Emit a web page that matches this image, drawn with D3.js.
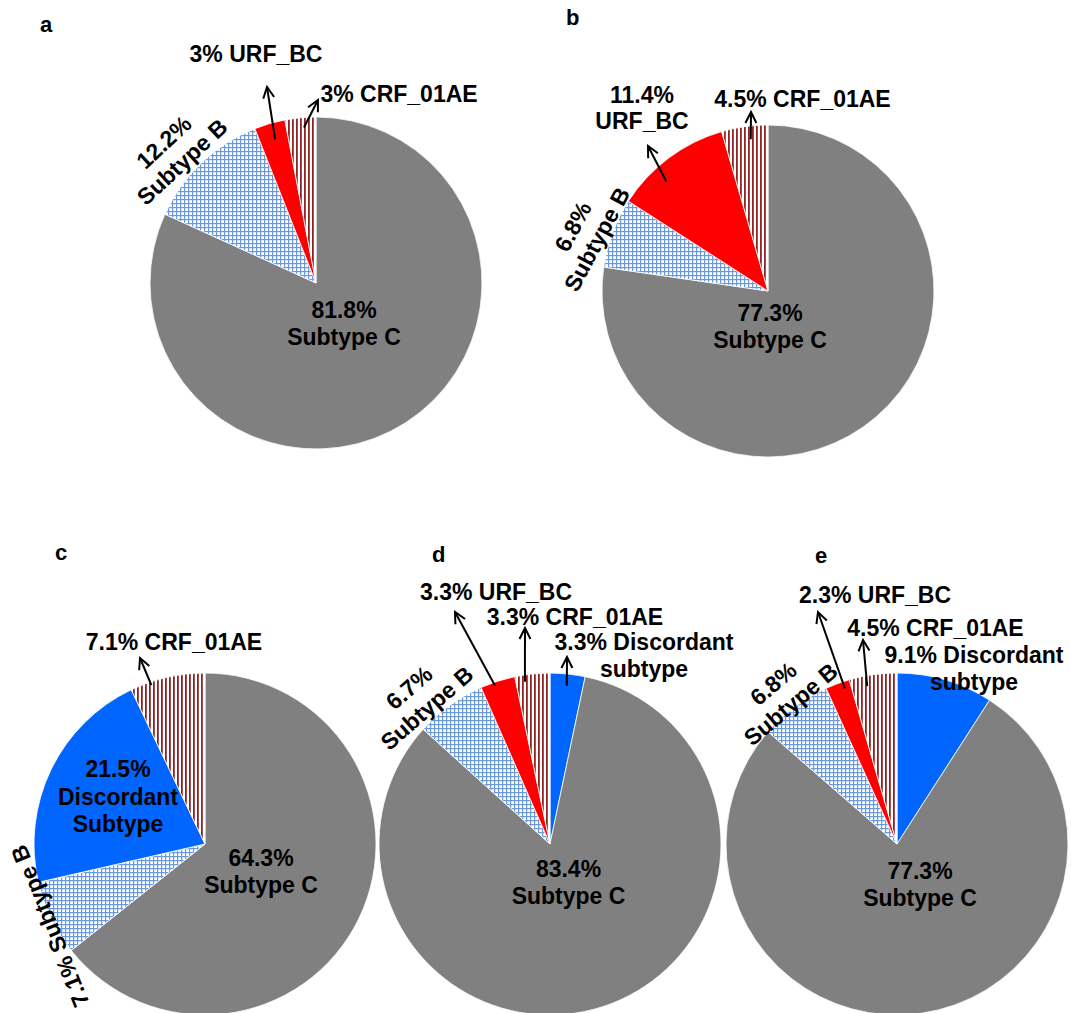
<!DOCTYPE html>
<html>
<head>
<meta charset="utf-8">
<script src="https://cdn.jsdelivr.net/npm/d3@7"></script>
<style>
  body { margin: 0; background: #fff; }
  text { font-family: "Liberation Sans", Arial, sans-serif; font-weight: bold; fill: #000; }
</style>
</head>
<body>
<div id="d3-container"></div>
<script>
/**
 * DATA (slices listed clockwise from 12 o'clock)
 * */
const catsA = ["Subtype C", "Subtype B", "URF_BC", "CRF_01AE"];
const valsA = [81.8, 12.2, 3, 3];

const catsB = ["Subtype C", "Subtype B", "URF_BC", "CRF_01AE"];
const valsB = [77.3, 6.8, 11.4, 4.5];

const catsC = ["Subtype C", "Subtype B", "Discordant", "CRF_01AE"];
const valsC = [64.3, 7.1, 21.5, 7.1];

const catsD = ["Discordant", "Subtype C", "Subtype B", "URF_BC", "CRF_01AE"];
const valsD = [3.3, 83.4, 6.7, 3.3, 3.3];

const catsE = ["Discordant", "Subtype C", "Subtype B", "URF_BC", "CRF_01AE"];
const valsE = [9.1, 77.3, 6.8, 2.3, 4.5];

const panelNames = ["a", "b", "c", "d", "e"];

/**
 * CONSTANTS AND GLOBALS
 * */
const width = 1071,
  height = 1013,
  lineH = 27;

let svg;

// fill per category (the patterned ones point at <pattern> ids)
const fillFor = {
  "Subtype C": "#808080",
  "Subtype B": "url(#grid)",
  "URF_BC": "#ff0000",
  "CRF_01AE": "url(#stripes)",
  "Discordant": "#0066ff"
};

// layout of each panel: pie position, panel letter, labels and arrows
const panels = [
  {
    cats: catsA, vals: valsA, cx: 316, cy: 283, r: 166, letter: [40, 32],
    labels: [
      { lines: ["3% URF_BC"], x: 256, y: 54 },
      { lines: ["3% CRF_01AE"], x: 399, y: 94 },
      { lines: ["12.2%", "Subtype B"], x: 173, y: 152, rot: -43 },
      { lines: ["81.8%", "Subtype C"], x: 344, y: 323.5 }
    ],
    arrows: [
      { cat: "URF_BC", t: 0.53, k: 0.9, to: [267, 87] },
      { cat: "CRF_01AE", t: 0.59, k: 0.94, to: [318, 100] }
    ]
  },
  {
    cats: catsB, vals: valsB, cx: 768, cy: 291, r: 166, letter: [566, 25],
    labels: [
      { lines: ["11.4%", "URF_BC"], x: 642, y: 107.5, lh: 26 },
      { lines: ["4.5% CRF_01AE"], x: 802.5, y: 99 },
      { lines: ["6.8%", "Subtype B"], x: 585, y: 233, rot: -62 },
      { lines: ["77.3%", "Subtype C"], x: 770, y: 326 }
    ],
    arrows: [
      { cat: "URF_BC", t: 0.35, k: 0.9, to: [648, 146] },
      { cat: "CRF_01AE", t: 0.6, k: 0.92, to: [751, 112] }
    ]
  },
  {
    cats: catsC, vals: valsC, cx: 205, cy: 844, r: 171, letter: [55, 560],
    labels: [
      { lines: ["7.1% CRF_01AE"], x: 174, y: 642 },
      { lines: ["21.5%", "Discordant", "Subtype"], x: 118, y: 796.5, lh: 27.5 },
      { lines: ["64.3%", "Subtype C"], x: 261, y: 871 },
      { lines: ["7.1% Subtype B"], x: 50, y: 926, rot: -112 }
    ],
    arrows: [
      { cat: "CRF_01AE", t: 0.27, k: 0.98, to: [140, 658] }
    ]
  },
  {
    cats: catsD, vals: valsD, cx: 550, cy: 844, r: 171, letter: [432, 562],
    labels: [
      { lines: ["3.3% URF_BC"], x: 496, y: 592 },
      { lines: ["3.3% CRF_01AE"], x: 575, y: 617 },
      { lines: ["3.3% Discordant", "subtype"], x: 644, y: 655.5 },
      { lines: ["6.7%", "Subtype B"], x: 418, y: 698, rot: -41 },
      { lines: ["83.4%", "Subtype C"], x: 568.5, y: 882.5 }
    ],
    arrows: [
      { cat: "URF_BC", t: 0.39, k: 0.98, to: [455, 612] },
      { cat: "CRF_01AE", t: 0.26, k: 0.96, to: [525, 628] },
      { cat: "Discordant", t: 0.51, k: 0.93, to: [567, 657] }
    ]
  },
  {
    cats: catsE, vals: valsE, cx: 897, cy: 844, r: 171, letter: [815, 563],
    labels: [
      { lines: ["2.3% URF_BC"], x: 875, y: 595 },
      { lines: ["4.5% CRF_01AE"], x: 935.5, y: 628 },
      { lines: ["9.1% Discordant", "subtype"], x: 974, y: 668.5 },
      { lines: ["6.8%", "Subtype B"], x: 782, y: 694, rot: -40 },
      { lines: ["77.3%", "Subtype C"], x: 920, y: 884 }
    ],
    arrows: [
      { cat: "URF_BC", t: 0.72, k: 0.96, to: [818, 612] },
      { cat: "CRF_01AE", t: 0.34, k: 0.94, to: [863, 640] }
    ]
  }
];

/**
 * INIT
 * */
function init() {
  svg = d3.select("#d3-container")
    .append("svg")
    .attr("width", width)
    .attr("height", height);

  const defs = svg.append("defs");

  // blue check pattern for subtype B
  const grid = defs.append("pattern")
    .attr("id", "grid")
    .attr("patternUnits", "userSpaceOnUse")
    .attr("width", 4).attr("height", 4);
  grid.append("rect").attr("width", 4).attr("height", 4).attr("fill", "#fff");
  grid.append("rect").attr("x", 0).attr("y", 0).attr("width", 4).attr("height", 1.2).attr("fill", "#6b98d8");
  grid.append("rect").attr("x", 0).attr("y", 0).attr("width", 1.2).attr("height", 4).attr("fill", "#6b98d8");

  // dark red vertical stripes for CRF_01AE
  const stripes = defs.append("pattern")
    .attr("id", "stripes")
    .attr("patternUnits", "userSpaceOnUse")
    .attr("width", 4).attr("height", 4);
  stripes.append("rect").attr("width", 4).attr("height", 4).attr("fill", "#fff");
  stripes.append("rect").attr("x", 0).attr("width", 1.8).attr("height", 4).attr("fill", "#8e2525");

  defs.append("marker")
    .attr("id", "head")
    .attr("viewBox", "0 0 14 14")
    .attr("refX", 12).attr("refY", 7)
    .attr("markerWidth", 14).attr("markerHeight", 14)
    .attr("markerUnits", "userSpaceOnUse")
    .attr("orient", "auto")
    .append("path")
    .attr("d", "M1,1.5 L12,7 L1,12.5")
    .attr("fill", "none")
    .attr("stroke", "#000")
    .attr("stroke-width", 2);

  draw();
}

/**
 * DRAW
 * */
function draw() {
  const pie = d3.pie().sort(null).value(d => d.v);

  panels.forEach((p, i) => {
    const rows = p.cats.map((c, j) => ({ cat: c, v: p.vals[j] }));
    const arcs = pie(rows);
    const arc = d3.arc().innerRadius(0).outerRadius(p.r);

    const g = svg.append("g")
      .attr("transform", `translate(${p.cx}, ${p.cy})`);

    g.selectAll("path")
      .data(arcs)
      .join("path")
      .attr("d", arc)
      .attr("fill", d => fillFor[d.data.cat])
      .attr("stroke", "#fff")
      .attr("stroke-width", 0.8);

    // arrows from inside a slice out to its label
    p.arrows.forEach(a => {
      const s = arcs.find(d => d.data.cat === a.cat);
      const ang = s.startAngle + a.t * (s.endAngle - s.startAngle);
      const rr = a.k * p.r;
      svg.append("line")
        .attr("x1", p.cx + rr * Math.sin(ang))
        .attr("y1", p.cy - rr * Math.cos(ang))
        .attr("x2", a.to[0])
        .attr("y2", a.to[1])
        .attr("stroke", "#000")
        .attr("stroke-width", 2)
        .attr("marker-end", "url(#head)");
    });

    // labels, positioned by the centre of the text block
    p.labels.forEach(l => {
      const lh = l.lh || lineH;
      const n = l.lines.length;
      const t = svg.append("text")
        .attr("transform", `translate(${l.x}, ${l.y}) rotate(${l.rot || 0})`)
        .attr("text-anchor", "middle")
        .style("font-size", "23px");
      t.selectAll("tspan")
        .data(l.lines)
        .join("tspan")
        .attr("x", 0)
        .attr("y", (d, k) => (k - (n - 1) / 2) * lh + 8)
        .text(d => d);
    });

    svg.append("text")
      .attr("x", p.letter[0])
      .attr("y", p.letter[1])
      .style("font-size", "22px")
      .text(panelNames[i]);
  });
}

init();
</script>
</body>
</html>
